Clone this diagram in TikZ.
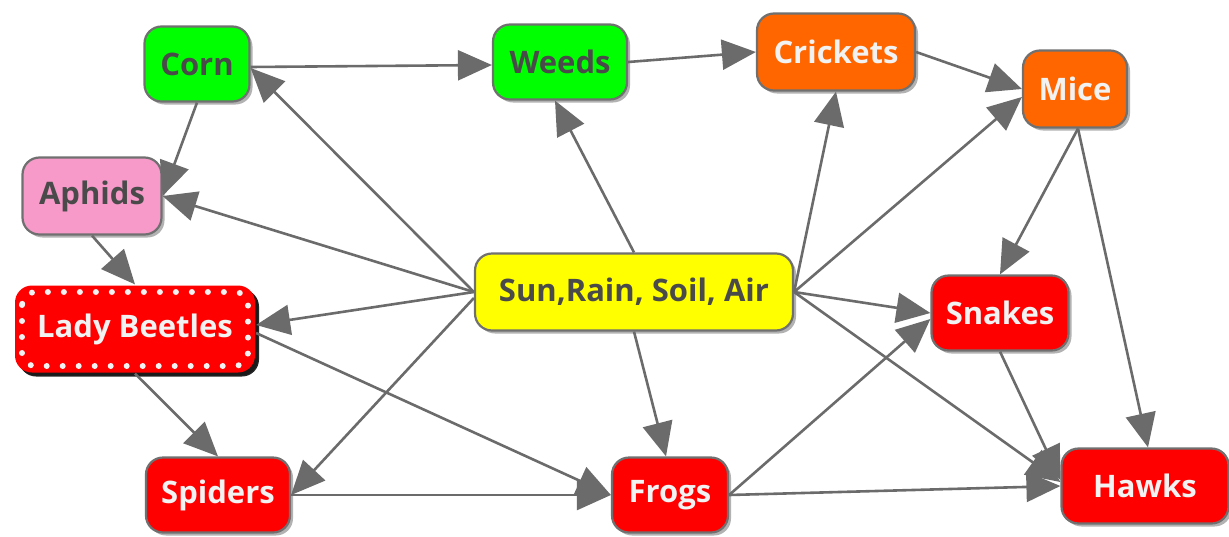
\documentclass[tikz,border=0pt]{standalone}
\usepackage{fontspec}
\setmainfont{Open Sans}
\usetikzlibrary{arrows.meta,shadows}
\definecolor{edgegray}{HTML}{6B6B6B}
\definecolor{bordergray}{HTML}{707070}
\definecolor{darktext}{HTML}{4A4A4A}
\definecolor{lighttext}{HTML}{F2F2F2}
\definecolor{cgreen}{HTML}{00FF00}
\definecolor{corange}{HTML}{FF6600}
\definecolor{cpink}{HTML}{F799C9}
\definecolor{cyellow}{HTML}{FFFF00}
\definecolor{cred}{HTML}{FF0000}
\begin{document}
\begin{tikzpicture}[x=1pt,y=-1pt,
  box/.style={rounded corners=17pt, draw=bordergray, line width=2.2pt,
    font=\fontsize{31}{36}\selectfont\bfseries, inner sep=0pt,
    drop shadow={shadow xshift=3pt, shadow yshift=-3pt, opacity=0.3, fill=black}},
  plantbox/.style={box, fill=cgreen, text=darktext},
  orangebox/.style={box, fill=corange, text=lighttext},
  redbox/.style={box, fill=cred, text=lighttext},
  link/.style={draw=edgegray, line width=2.6pt, -{Triangle[length=34pt,width=30pt]}},
  dotborder/.style={draw=lighttext, line width=6pt, line cap=round, dash pattern=on 0pt off 16pt, rounded corners=13pt}
]
\useasboundingbox (0,0) rectangle (1229,536);

% nodes
\node[plantbox, minimum width=105pt, minimum height=75pt] (corn) at (197,64) {Corn};
\node[plantbox, minimum width=134pt, minimum height=75pt] (weeds) at (560,62) {Weeds};
\node[orangebox, minimum width=158pt, minimum height=77pt] (crickets) at (836,52) {Crickets};
\node[orangebox, minimum width=104pt, minimum height=77pt] (mice) at (1075,89) {Mice};
\node[box, fill=cpink, text=darktext, minimum width=139pt, minimum height=77pt] (aphids) at (92,196) {Aphids};
\node[box, draw=none, fill=cred, text=lighttext, minimum width=240pt, minimum height=87pt,
  drop shadow={shadow xshift=4pt, shadow yshift=-4pt, opacity=0.85, fill=black}] (lady) at (135,329) {Lady Beetles};
\draw[dotborder] (22,292) rectangle (248,366);
\node[box, fill=cyellow, text=darktext, minimum width=318pt, minimum height=77pt] (sun) at (634,292) {Sun,Rain, Soil, Air};
\node[redbox, minimum width=137pt, minimum height=75pt] (snakes) at (1000,313) {Snakes};
\node[redbox, minimum width=144pt, minimum height=75pt] (spiders) at (218,495) {Spiders};
\node[redbox, minimum width=116pt, minimum height=75pt] (frogs) at (670,495) {Frogs};
\node[redbox, minimum width=167pt, minimum height=75pt] (hawks) at (1145,486) {Hawks};

% connectors
\draw[link] ([yshift=-3pt]corn.east) -- ([yshift=-3pt]weeds.west);
\draw[link] (weeds.east) -- (crickets.west);
\draw[link] (crickets.east) -- (mice.west);
\draw[link] (corn.south) -- (aphids.east);
\draw[link] (aphids.south) -- (lady.north);
\draw[link] (sun.west) -- ([yshift=-4pt]corn.east);
\draw[link] (sun.north) -- ([xshift=-5pt]weeds.south);
\draw[link] (sun.east) -- (crickets.south);
\draw[link] (sun.east) -- ([yshift=-8pt]mice.west);
\draw[link] (sun.west) -- (aphids.east);
\draw[link] (sun.west) -- ([yshift=4pt]lady.east);
\draw[link] ([yshift=-6pt]sun.west) -- (spiders.east);
\draw[link] (sun.south) -- ([xshift=-4pt]frogs.north);
\draw[link] (sun.east) -- (snakes.west);
\draw[link] (sun.east) -- ([yshift=4pt]hawks.west);
\draw[link] (lady.south) -- (spiders.north);
\draw[link] ([yshift=-4pt]lady.east) -- (frogs.west);
\draw[link] (spiders.east) -- (frogs.west);
\draw[link] (frogs.east) -- ([yshift=-6pt]snakes.west);
\draw[link] (frogs.east) -- (hawks.west);
\draw[link] ([xshift=3pt]mice.south) -- (snakes.north);
\draw[link] ([xshift=3pt]mice.south) -- ([xshift=3pt]hawks.north);
\draw[link] (snakes.south) -- ([yshift=6pt]hawks.west);
\end{tikzpicture}
\end{document}
